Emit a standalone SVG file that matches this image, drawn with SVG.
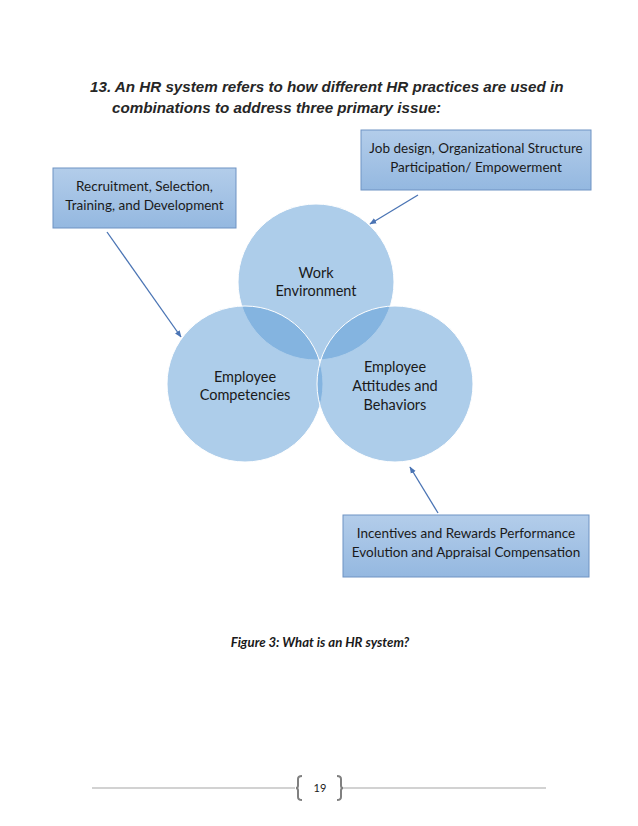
<svg xmlns="http://www.w3.org/2000/svg" width="638" height="826" viewBox="0 0 638 826">
<style>
.hd{font-family:"Liberation Sans",Arial,sans-serif;font-weight:bold;font-style:italic;font-size:15.2px;fill:#262626}
.bx{fill:url(#g);stroke:#6f93c3;stroke-width:1}
.bt{font-family:Lato,"Open Sans",sans-serif;font-size:13.5px;fill:#1a1a1a;text-anchor:middle}
.ct{font-family:Lato,"Open Sans",sans-serif;font-size:14.5px;fill:#1a1a1a;text-anchor:middle}
.cc{fill:#5b9bd5;fill-opacity:0.5;stroke:#ffffff;stroke-width:1}
.ar{stroke:#4a74b4;stroke-width:1.3;fill:none;marker-end:url(#ah)}
</style>
<defs>
<linearGradient id="g" x1="0" y1="0" x2="0" y2="1">
<stop offset="0" stop-color="#b3cdea"/>
<stop offset="1" stop-color="#94b8e0"/>
</linearGradient>
<marker id="ah" viewBox="0 0 10 10" refX="9" refY="5" markerWidth="7" markerHeight="7" orient="auto" markerUnits="userSpaceOnUse">
<path d="M0,1 L10,5 L0,9 z" fill="#4a74b4"/>
</marker>
</defs>
<rect width="638" height="826" fill="#ffffff"/>
<g id="heading">
<text class="hd" x="90" y="92">13. An HR system refers to how different HR practices are used in</text>
<text class="hd" x="112" y="113">combinations to address three primary issue:</text>
</g>
<g id="circles">
<g id="work"><circle class="cc" cx="316" cy="282" r="78"/></g>
<g id="competencies"><circle class="cc" cx="245" cy="384" r="78"/></g>
<g id="attitudes"><circle class="cc" cx="395" cy="384" r="78"/></g>
</g>
<g id="circle-labels">
<text class="ct" x="316" y="278">Work</text>
<text class="ct" x="316" y="296">Environment</text>
<text class="ct" x="245" y="382">Employee</text>
<text class="ct" x="245" y="400">Competencies</text>
<text class="ct" x="395" y="372">Employee</text>
<text class="ct" x="395" y="391">Attitudes and</text>
<text class="ct" x="395" y="410">Behaviors</text>
</g>
<g id="box-left">
<rect class="bx" x="53" y="168" width="183" height="60"/>
<text class="bt" x="144.5" y="191">Recruitment, Selection,</text>
<text class="bt" x="144.5" y="210">Training, and Development</text>
</g>
<g id="box-top">
<rect class="bx" x="361" y="130" width="230" height="60"/>
<text class="bt" x="476" y="153">Job design, Organizational Structure</text>
<text class="bt" x="476" y="172">Participation/ Empowerment</text>
</g>
<g id="box-bottom">
<rect class="bx" x="343" y="515" width="246" height="62"/>
<text class="bt" x="466" y="538">Incentives and Rewards Performance</text>
<text class="bt" x="466" y="557">Evolution and Appraisal Compensation</text>
</g>
<g id="connectors">
<line class="ar" x1="107" y1="232" x2="181" y2="337"/>
<line class="ar" x1="418" y1="195" x2="370" y2="224"/>
<line class="ar" x1="438" y1="513" x2="410" y2="467"/>
</g>
<g id="caption">
<text x="320" y="647" style="font-family:Lato,'Open Sans',sans-serif;font-weight:bold;font-style:italic;font-size:13.2px;fill:#1a1a1a;text-anchor:middle">Figure 3: What is an HR system?</text>
</g>
<g id="footer">
<line x1="92" y1="788" x2="295" y2="788" stroke="#a6a6a6" stroke-width="1.2"/>
<line x1="343" y1="788" x2="546" y2="788" stroke="#a6a6a6" stroke-width="1.2"/>
<path d="M302,776 Q298,776 298,779 L298,785.5 Q298,788 296,788 Q298,788 298,790.5 L298,797 Q298,800 302,800" fill="none" stroke="#808080" stroke-width="2"/>
<path d="M337,776 Q341,776 341,779 L341,785.5 Q341,788 343,788 Q341,788 341,790.5 L341,797 Q341,800 337,800" fill="none" stroke="#808080" stroke-width="2"/>
<text x="320" y="792" style="font-family:Lato,'Open Sans',sans-serif;font-size:11px;fill:#1a1a1a;text-anchor:middle">19</text>
</g>
</svg>
